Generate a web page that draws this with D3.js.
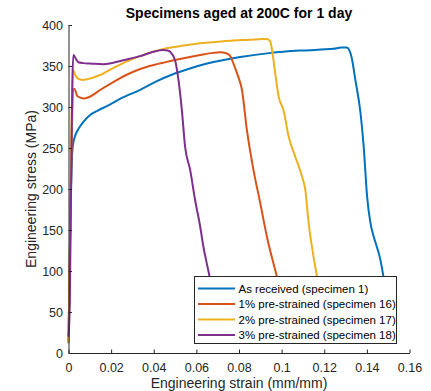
<!DOCTYPE html>
<html><head><meta charset="utf-8">
<script src="https://cdn.jsdelivr.net/npm/d3@7"></script>
<style>
html,body{margin:0;padding:0;background:#fff;}
svg{display:block;font-family:"Liberation Sans",Arial,sans-serif;}
</style></head>
<body>
<script>
const seriesNames = ["As received (specimen 1)","1% pre-strained (specimen 16)","2% pre-strained (specimen 17)","3% pre-strained (specimen 18)"];
const seriesColors = ["#0072BD","#D95319","#EDB120","#7E2F8E"];
const xTicks = [0,0.02,0.04,0.06,0.08,0.1,0.12,0.14,0.16];
const xTickLabels = ["0","0.02","0.04","0.06","0.08","0.1","0.12","0.14","0.16"];
const yTicks = [0,50,100,150,200,250,300,350,400];
const yTickLabels = ["0","50","100","150","200","250","300","350","400"];

// [strain, stress]
const asReceived = [[0,12],[0.0005,100],[0.0010,180],[0.0015,230],[0.0020,252],[0.0030,264],[0.0046,273],[0.0070,282],[0.010,290],[0.014,296],[0.018,301],[0.025,311],[0.0336,321],[0.041,331],[0.049,340],[0.057,347],[0.065,353],[0.0806,361],[0.095,366],[0.11,369],[0.1244,371],[0.128,372.5],[0.1305,372.5],[0.1318,369],[0.1328,361],[0.1346,333],[0.137,293],[0.1385,252],[0.1401,191],[0.1417,158],[0.1432,142],[0.1464,113],[0.1478,93],[0.1495,68]];
const pre1 = [[0,15],[0.0008,150],[0.0015,260],[0.0022,322],[0.0028,322],[0.0040,314],[0.0055,311.5],[0.0075,310.5],[0.010,312.5],[0.0148,320.7],[0.022,332],[0.0304,343],[0.038,350],[0.0461,355],[0.054,359.5],[0.0618,363.4],[0.068,366],[0.0712,366.7],[0.0740,365.5],[0.0759,362],[0.0774,353],[0.0795,338],[0.0814,320.7],[0.0837,272],[0.0868,223],[0.090,182.5],[0.0931,141.8],[0.0978,93],[0.1000,70]];
const pre2 = [[0,12],[0.0008,160],[0.0015,290],[0.0022,345],[0.0030,340],[0.0045,334.5],[0.0065,333],[0.009,334],[0.0148,339],[0.022,349],[0.0305,359],[0.038,366],[0.0461,371.6],[0.054,375],[0.0618,377.7],[0.07,379.5],[0.0774,381],[0.085,382],[0.0915,383],[0.0935,382.5],[0.0947,379.6],[0.0955,369.5],[0.097,341],[0.0986,312.6],[0.1009,296],[0.1033,264],[0.1064,239.4],[0.1096,215],[0.1111,199],[0.1127,158],[0.115,117],[0.1166,93],[0.118,70]];
const pre3 = [[0,20],[0.0006,60],[0.0012,200],[0.0018,330],[0.0023,363.5],[0.0032,360],[0.0046,354.5],[0.007,353.5],[0.0101,353],[0.0164,352],[0.021,354],[0.0258,357],[0.0336,362],[0.0398,367.4],[0.0445,369.5],[0.0465,369],[0.0477,367.4],[0.05,357],[0.0516,333],[0.0532,296],[0.0547,251.6],[0.0571,223],[0.0594,186.6],[0.0618,154],[0.0633,129.6],[0.0649,109],[0.0662,93],[0.0675,70]];
const allSeries = [asReceived, pre1, pre2, pre3];

const W = 431, H = 391;
const svg = d3.select("body").append("svg").attr("width", W).attr("height", H);
const x = d3.scaleLinear().domain([0,0.16]).range([68.5,409.5]);
const y = d3.scaleLinear().domain([0,400]).range([353,25]);
const axisColor = "#262626";

const line = d3.line().x(d => x(d[0])).y(d => y(d[1])).curve(d3.curveMonotoneX);
allSeries.forEach((s, i) => {
  svg.append("path").datum(s).attr("d", line)
    .attr("fill","none").attr("stroke", seriesColors[i]).attr("stroke-width", 2)
    .attr("stroke-linejoin","round");
});

const xAxis = svg.append("g").attr("transform", `translate(0,${y(0)})`)
  .call(d3.axisBottom(x).tickValues(xTicks).tickFormat((d,i) => xTickLabels[i]).tickSize(-3.5).tickSizeOuter(0).tickPadding(10));
const yAxis = svg.append("g").attr("transform", `translate(${x(0)},0)`)
  .call(d3.axisLeft(y).tickValues(yTicks).tickFormat((d,i) => yTickLabels[i]).tickSize(-3.5).tickSizeOuter(0).tickPadding(5.5));
[xAxis, yAxis].forEach(g => {
  g.select(".domain").attr("stroke", axisColor).attr("stroke-width", 1);
  g.selectAll(".tick line").attr("stroke", axisColor);
  g.selectAll(".tick text").attr("fill", axisColor).attr("font-size", "12.5px")
    .attr("font-family", '"Liberation Sans",Arial,sans-serif');
});

// Legend
const lg = svg.append("g");
lg.append("rect").attr("x",194.5).attr("y",276.5).attr("width",202).attr("height",67)
  .attr("fill","#fff").attr("stroke",axisColor).attr("stroke-width",1);
seriesNames.forEach((n, i) => {
  const ly = 288.5 + i*15.5;
  lg.append("line").attr("x1",198).attr("x2",235).attr("y1",ly).attr("y2",ly)
    .attr("stroke", seriesColors[i]).attr("stroke-width",2);
  lg.append("text").attr("x",238.5).attr("y",ly).attr("dy","0.35em")
    .attr("font-size","11.5px").attr("fill","#000").text(n);
});

svg.append("text").attr("x",239).attr("y",18).attr("text-anchor","middle")
  .attr("font-size","14px").attr("font-weight","bold").attr("fill","#000")
  .text("Specimens aged at 200C for 1 day");
svg.append("text").attr("x",239).attr("y",388).attr("text-anchor","middle")
  .attr("font-size","14px").attr("fill",axisColor).text("Engineering strain (mm/mm)");
svg.append("text").attr("transform","translate(35.5,189) rotate(-90)").attr("text-anchor","middle")
  .attr("font-size","14px").attr("fill",axisColor).text("Engineering stress (MPa)");
</script>
</body></html>
